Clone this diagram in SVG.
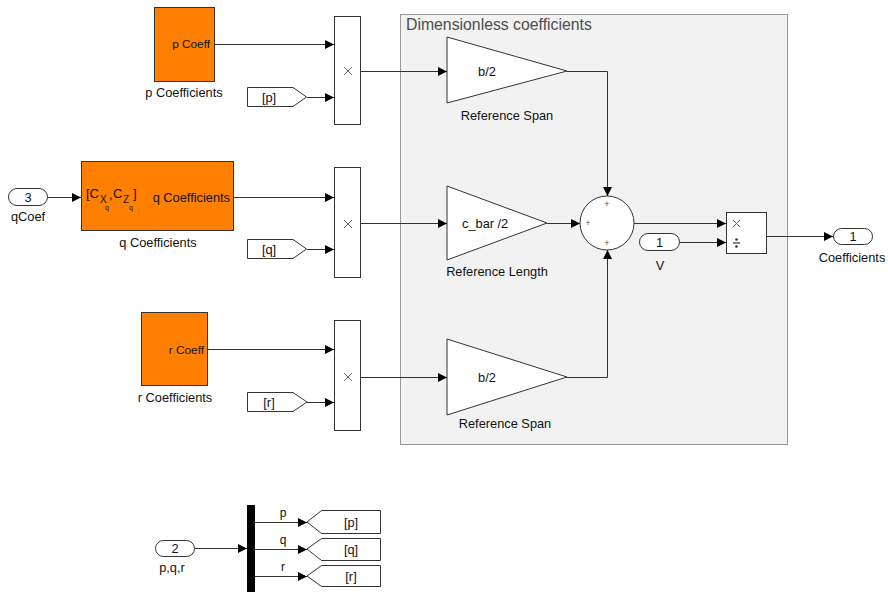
<svg xmlns="http://www.w3.org/2000/svg" width="888" height="592" viewBox="0 0 888 592">
  <defs>
    <marker id="arr" markerUnits="userSpaceOnUse" markerWidth="10" markerHeight="10" refX="9" refY="4.5" orient="auto">
      <path d="M0,0 L9,4.5 L0,9 z" fill="#000"/>
    </marker>
  </defs>
  <style>
    text { font-family: "Liberation Sans", Arial, sans-serif; fill: #111; }
    .lbl { font-size: 12.8px; text-anchor: middle; }
    .blk { fill: #fff; stroke: #333; stroke-width: 1; }
    .lut { fill: #ff8000; stroke: #333; stroke-width: 1; }
    .wire { fill: none; stroke: #333; stroke-width: 1; marker-end: url(#arr); }
    .op { stroke: #666; stroke-width: 1; fill: none; }
    .sgn { font-size: 9px; fill: #555; text-anchor: middle; }
  </style>

  <rect width="888" height="592" fill="#fff"/>

  <!-- Dimensionless coefficients area -->
  <g id="area">
    <rect x="400.5" y="14.5" width="387" height="430" fill="#f2f2f2" stroke="#999"/>
    <text x="406" y="30" style="font-size:15.8px;fill:#4d4d4d">Dimensionless coefficients</text>
  </g>

  <!-- p branch -->
  <g id="pCoeff">
    <rect class="lut" x="154.5" y="7.5" width="60" height="74"/>
    <text x="210" y="48" style="font-size:11.8px;text-anchor:end">p Coeff</text>
    <text class="lbl" x="184" y="97">p Coefficients</text>
  </g>
  <g id="gotoP1">
    <path class="blk" d="M247.5,87.5 H293 L306.5,97 L293,106.5 H247.5 z"/>
    <text class="lbl" x="269" y="101.5">[p]</text>
  </g>
  <g id="prodP">
    <rect class="blk" x="334.5" y="16.5" width="26" height="108"/>
    <path class="op" d="M344,67 L352,75 M352,67 L344,75"/>
  </g>
  <g id="gainP">
    <path class="blk" d="M447,37 L567,71 L447,103 z"/>
    <text x="487" y="76" style="font-size:12.8px;text-anchor:middle">b/2</text>
    <text class="lbl" x="507" y="120">Reference Span</text>
  </g>

  <!-- q branch -->
  <g id="inQ">
    <rect class="blk" x="8.5" y="188.5" width="39" height="17" rx="8.5"/>
    <text class="lbl" x="28" y="201.5">3</text>
    <text class="lbl" x="28" y="221">qCoef</text>
  </g>
  <g id="qCoeff">
    <rect class="lut" x="81.5" y="161.5" width="152" height="69"/>
    <text x="86" y="198" style="font-size:13px">[C</text>
    <text x="100" y="203" style="font-size:10px">X</text>
    <text x="105" y="210" style="font-size:7px">q</text>
    <text x="109" y="199" style="font-size:12px">,</text>
    <text x="113" y="198" style="font-size:13px">C</text>
    <text x="123" y="203" style="font-size:10px">Z</text>
    <text x="129" y="210" style="font-size:7px">q</text>
    <text x="133" y="198" style="font-size:13px">]</text>
    <text x="230" y="202" style="font-size:12.8px;text-anchor:end">q Coefficients</text>
    <text class="lbl" x="158" y="247">q Coefficients</text>
  </g>
  <g id="gotoQ1">
    <path class="blk" d="M247.5,239.5 H293 L306.5,249 L293,258.5 H247.5 z"/>
    <text class="lbl" x="269" y="253.5">[q]</text>
  </g>
  <g id="prodQ">
    <rect class="blk" x="334.5" y="167.5" width="26" height="110"/>
    <path class="op" d="M344,220 L352,228 M352,220 L344,228"/>
  </g>
  <g id="gainQ">
    <path class="blk" d="M447,186 L547,223 L447,260 z"/>
    <text x="462" y="228" style="font-size:12.8px">c_bar /2</text>
    <text class="lbl" x="497" y="276">Reference Length</text>
  </g>

  <!-- r branch -->
  <g id="rCoeff">
    <rect class="lut" x="141.5" y="312.5" width="66" height="73"/>
    <text x="204" y="354" style="font-size:11.8px;text-anchor:end">r Coeff</text>
    <text class="lbl" x="175" y="402">r Coefficients</text>
  </g>
  <g id="gotoR1">
    <path class="blk" d="M247.5,392.5 H293 L307,402 L293,411.5 H247.5 z"/>
    <text class="lbl" x="269" y="406.5">[r]</text>
  </g>
  <g id="prodR">
    <rect class="blk" x="334.5" y="320.5" width="26" height="110"/>
    <path class="op" d="M344,373 L352,381 M352,373 L344,381"/>
  </g>
  <g id="gainR">
    <path class="blk" d="M447,339 L567,377 L447,415 z"/>
    <text x="487" y="382" style="font-size:12.8px;text-anchor:middle">b/2</text>
    <text class="lbl" x="505" y="428">Reference Span</text>
  </g>

  <!-- sum and scaling -->
  <g id="sum">
    <circle class="blk" cx="607" cy="223" r="27"/>
    <text class="sgn" x="607" y="207">+</text>
    <text class="sgn" x="588" y="226">+</text>
    <text class="sgn" x="607" y="246">+</text>
  </g>
  <g id="inV">
    <rect class="blk" x="639.5" y="233.5" width="40" height="17" rx="8.5"/>
    <text class="lbl" x="659.5" y="246.5">1</text>
    <text class="lbl" x="660" y="270">V</text>
  </g>
  <g id="divide">
    <rect class="blk" x="726.5" y="212.5" width="40" height="41"/>
    <path class="op" d="M733,220 L740,227 M740,220 L733,227"/>
    <circle cx="736.5" cy="239.5" r="1.3" fill="#333"/>
    <circle cx="736.5" cy="246.5" r="1.3" fill="#333"/>
    <path d="M733,243 H740" stroke="#333" stroke-width="1.2"/>
  </g>
  <g id="outCoeff">
    <rect class="blk" x="833.5" y="228.5" width="39" height="16" rx="8"/>
    <text class="lbl" x="853" y="241">1</text>
    <text class="lbl" x="852" y="262">Coefficients</text>
  </g>

  <!-- p,q,r input and routing -->
  <g id="inPQR">
    <rect class="blk" x="155.5" y="540.5" width="39" height="16" rx="8"/>
    <text class="lbl" x="175" y="553">2</text>
    <text class="lbl" x="172" y="572">p,q,r</text>
  </g>
  <g id="demux">
    <rect x="247" y="505" width="8" height="87" fill="#000"/>
  </g>
  <g id="gotoP">
    <path class="blk" d="M307,522 L321.5,510.5 H380.5 V533.5 H321.5 z"/>
    <text class="lbl" x="351" y="526.5">[p]</text>
  </g>
  <g id="gotoQ">
    <path class="blk" d="M307,549 L321.5,538.5 H380.5 V560.5 H321.5 z"/>
    <text class="lbl" x="351" y="553.5">[q]</text>
  </g>
  <g id="gotoR">
    <path class="blk" d="M307,576 L321.5,565.5 H380.5 V586.5 H321.5 z"/>
    <text class="lbl" x="351" y="580.5">[r]</text>
  </g>

  <!-- connectors -->
  <g id="connectors">
    <path class="wire" d="M214,44.5 H334"/>
    <path class="wire" d="M307,97.5 H334"/>
    <path class="wire" d="M361,71.5 H447"/>
    <path class="wire" d="M48,197.5 H81"/>
    <path class="wire" d="M234,197.5 H334"/>
    <path class="wire" d="M307,249.5 H334"/>
    <path class="wire" d="M361,223.5 H447"/>
    <path class="wire" d="M208,349.5 H334"/>
    <path class="wire" d="M307,402.5 H334"/>
    <path class="wire" d="M361,377.5 H447"/>
    <path class="wire" d="M567,71.5 H607.5 V196"/>
    <path class="wire" d="M547,223.5 H580"/>
    <path class="wire" d="M567,377.5 H607.5 V250"/>
    <path class="wire" d="M634,223.5 H726"/>
    <path class="wire" d="M680,242.5 H726"/>
    <path class="wire" d="M767,236.5 H833"/>
    <path class="wire" d="M195,548.5 H247"/>
    <path class="wire" d="M255,522.5 H307"/>
    <path class="wire" d="M255,549.5 H307"/>
    <path class="wire" d="M255,576.5 H307"/>
    <text class="lbl" x="283" y="517" style="font-size:12px">p</text>
    <text class="lbl" x="283" y="544" style="font-size:12px">q</text>
    <text class="lbl" x="283" y="571" style="font-size:12px">r</text>
  </g>
</svg>
